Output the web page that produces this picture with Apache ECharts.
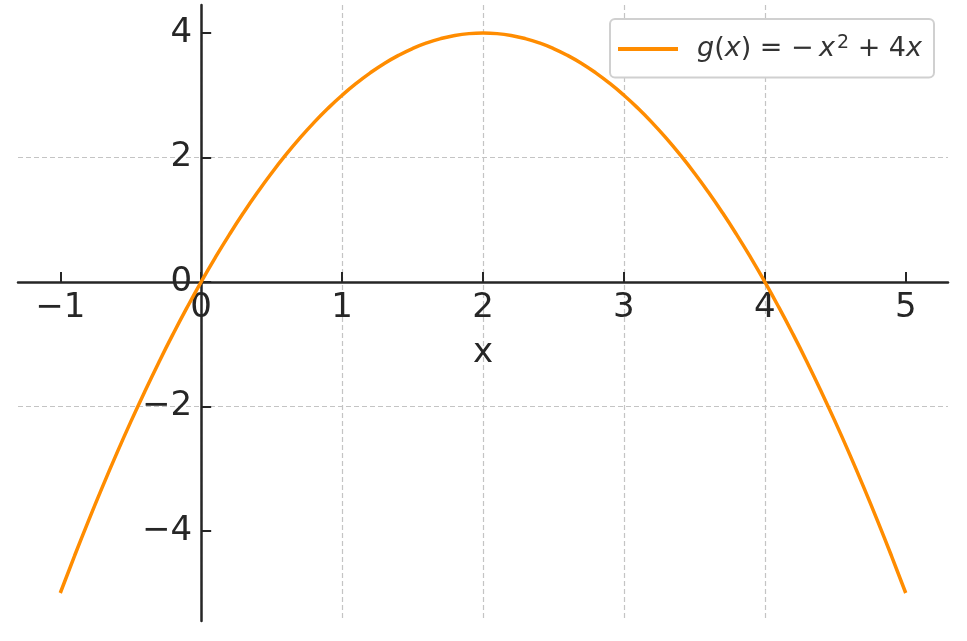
<!DOCTYPE html>
<html>
<head>
<meta charset="utf-8">
<script src="https://cdn.jsdelivr.net/npm/echarts@6/dist/echarts.min.js"></script>
<style>
html,body{margin:0;padding:0;background:#fff;}
#chart{width:967px;height:641px;}
</style>
</head>
<body>
<div id="chart"></div>
<script>
const xValues = [-1, -0.9, -0.8, -0.7, -0.6, -0.5, -0.4, -0.3, -0.2, -0.1, 0, 0.1, 0.2, 0.3, 0.4, 0.5, 0.6, 0.7, 0.8, 0.9, 1, 1.1, 1.2, 1.3, 1.4, 1.5, 1.6, 1.7, 1.8, 1.9, 2, 2.1, 2.2, 2.3, 2.4, 2.5, 2.6, 2.7, 2.8, 2.9, 3, 3.1, 3.2, 3.3, 3.4, 3.5, 3.6, 3.7, 3.8, 3.9, 4, 4.1, 4.2, 4.3, 4.4, 4.5, 4.6, 4.7, 4.8, 4.9, 5];
const gValues = [-5, -4.41, -3.84, -3.29, -2.76, -2.25, -1.76, -1.29, -0.84, -0.41, 0, 0.39, 0.76, 1.11, 1.44, 1.75, 2.04, 2.31, 2.56, 2.79, 3, 3.19, 3.36, 3.51, 3.64, 3.75, 3.84, 3.91, 3.96, 3.99, 4, 3.99, 3.96, 3.91, 3.84, 3.75, 3.64, 3.51, 3.36, 3.19, 3, 2.79, 2.56, 2.31, 2.04, 1.75, 1.44, 1.11, 0.76, 0.39, 0, -0.41, -0.84, -1.29, -1.76, -2.25, -2.76, -3.29, -3.84, -4.41, -5];
const xTicks = [-1, 0, 1, 2, 3, 4, 5];
const yTicks = [-4, -2, 0, 2, 4];
const seriesName = 'g(x)';

const points = xValues.map((x, i) => [x, gValues[i]]);
const fmt = v => String(v).replace('-', '\u2212');
const FONT = 'DejaVu Sans';
const axisColor = '#262626';
const GRID = { left: 18, right: 19, top: 5, bottom: 20 };
const gridLine = { show: true, showMinLine: false, showMaxLine: false, lineStyle: { color: '#c4c4c4', width: 1.2, type: [5, 3] } };

const chart = echarts.init(document.getElementById('chart'));
chart.setOption({
  animation: false,
  backgroundColor: '#fff',
  grid: Object.assign({ containLabel: false, outerBoundsMode: 'none' }, GRID),
  xAxis: {
    type: 'value', min: -1.3, max: 5.3,
    name: 'x', nameLocation: 'middle', nameGap: 54,
    nameTextStyle: { fontFamily: FONT, fontSize: 34, color: axisColor },
    axisLine: { onZero: false, lineStyle: { color: axisColor, width: 2.5 } },
    axisTick: { inside: true, length: 10, customValues: xTicks, lineStyle: { color: axisColor, width: 2 } },
    axisLabel: { customValues: xTicks, formatter: fmt, margin: 9, fontFamily: FONT, fontSize: 34, color: axisColor },
    splitLine: gridLine
  },
  yAxis: {
    type: 'value', min: -5.45, max: 4.45,
    axisLine: { onZero: false, lineStyle: { color: axisColor, width: 2.5 } },
    axisTick: { inside: true, length: 10, customValues: yTicks, lineStyle: { color: axisColor, width: 2 } },
    axisLabel: { customValues: yTicks, formatter: fmt, margin: 9, fontFamily: FONT, fontSize: 34, color: axisColor, padding: [4, 0, 0, 0] },
    splitLine: gridLine
  },
  legend: {
    right: 33, top: 19,
    padding: [15, 12, 15, 8],
    backgroundColor: '#fff',
    borderColor: '#d0d0d0', borderWidth: 2, borderRadius: 5,
    itemWidth: 60, itemHeight: 4,
    icon: 'rect',
    data: [{ name: seriesName, itemStyle: { color: '#ff8c00' } }],
    formatter: () => '{sp| }{it|g}{n|(}{it|x}{n|) = \u2212\u2009}{it|x}{sup|2}{n| + 4}{it|x}',
    textStyle: {
      color: '#333333',
      fontFamily: FONT,
      fontSize: 27,
      rich: {
        sp: { width: 14, fontSize: 27, fontFamily: FONT },
        it: { fontStyle: 'italic', fontSize: 27, fontFamily: FONT, color: '#333333', lineHeight: 30 },
        n: { fontSize: 27, fontFamily: FONT, color: '#333333', lineHeight: 30 },
        sup: { fontSize: 19, fontFamily: FONT, color: '#333333', verticalAlign: 'top', lineHeight: 22, padding: [0, 0, 0, 2] }
      }
    }
  },
  series: [{
    name: seriesName,
    type: 'line',
    data: points,
    smooth: true,
    showSymbol: false,
    lineStyle: { color: '#ff8c00', width: 3.5 },
    itemStyle: { color: '#ff8c00' },
    z: 5
  }]
});

// place both axes through the origin, labels included
const origin = chart.convertToPixel({ gridIndex: 0 }, [0, 0]);
chart.setOption({
  xAxis: { offset: -(641 - GRID.bottom - origin[1]) },
  yAxis: { offset: -(origin[0] - GRID.left) }
});
</script>
</body>
</html>
